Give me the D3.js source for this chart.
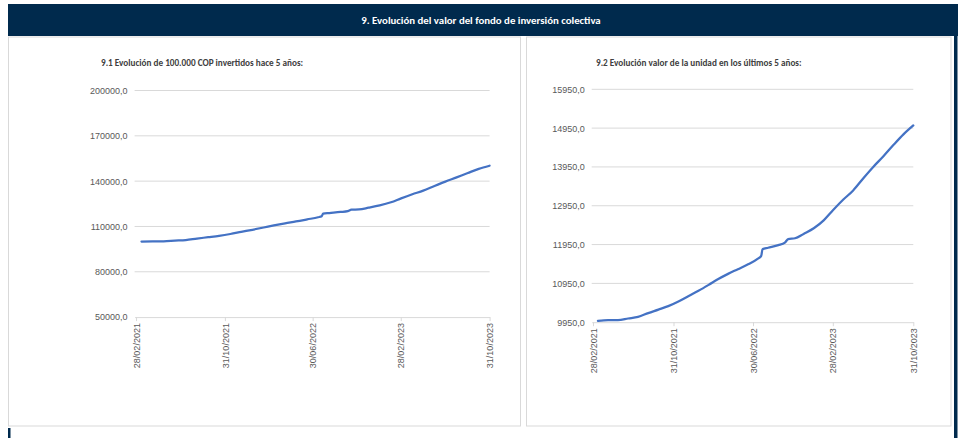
<!DOCTYPE html>
<html>
<head>
<meta charset="utf-8">
<script src="https://cdn.jsdelivr.net/npm/d3@7"></script>
<style>
  body { margin: 0; background: #fff; }
  svg { display: block; font-family: Carlito, Calibri, Lato, sans-serif; }
</style>
</head>
<body>
<script>
// fechas de corte
const fechas = [
  "2021-03-15","2021-04-15","2021-05-15","2021-06-15","2021-07-15","2021-08-15",
  "2021-09-15","2021-10-15","2021-11-15","2021-12-15","2022-01-15","2022-02-15",
  "2022-03-15","2022-04-15","2022-05-15","2022-06-15","2022-07-15","2022-07-25",
  "2022-07-29","2022-08-15","2022-09-15","2022-10-05","2022-10-15","2022-11-05",
  "2022-12-01","2023-01-01","2023-02-01","2023-03-01","2023-04-01","2023-05-01",
  "2023-06-01","2023-07-01","2023-08-01","2023-09-01","2023-10-01","2023-10-31"
];
// 9.1 evolucion de 100.000 COP
const valorInversion = [
  100000, 100100, 100150, 100600, 101000, 102000,
  102900, 103800, 105000, 106400, 107800, 109300,
  110700, 112100, 113300, 114700, 116100, 116800,
  118500, 118900, 119600, 120200, 121100, 121300,
  122400, 123900, 126000, 128600, 131300, 133700,
  136800, 139700, 142500, 145400, 148100, 150200
];
// 9.2 valor de la unidad
const valorUnidad = [
  9985, 10005, 10003, 10045, 10087, 10185,
  10275, 10365, 10485, 10620, 10760, 10912,
  11055, 11195, 11315, 11440, 11590, 11660,
  11830, 11868, 11935, 12000, 12090, 12112,
  12225, 12369, 12580, 12840, 13110, 13345,
  13660, 13950, 14225, 14520, 14790, 15020
];
const fechasEje = ["28/02/2021", "31/10/2021", "30/06/2022", "28/02/2023", "31/10/2023"];
const ticksInversion = [50000, 80000, 110000, 140000, 170000, 200000];
const ticksUnidad = [9950, 10950, 11950, 12950, 13950, 14950, 15950];

const W = 962, H = 438;
const navy = "#002a4d";
const parseIso = d3.timeParse("%Y-%m-%d");
const parseEje = d3.timeParse("%d/%m/%Y");
const esCO = d3.formatLocale({decimal: ",", thousands: "", grouping: [3], currency: ["$", ""]});
const fmt = esCO.format(".1f");

const svg = d3.select("body").append("svg")
  .attr("width", W)
  .attr("height", H);

// encabezado
svg.append("rect").attr("x", 8).attr("y", 4).attr("width", 950).attr("height", 32).attr("fill", navy);
svg.append("text")
  .attr("x", 481).attr("y", 20).attr("dy", "0.35em")
  .attr("text-anchor", "middle")
  .attr("fill", "#fff").attr("font-weight", "bold").attr("font-size", 10.8)
  .text("9. Evolución del valor del fondo de inversión colectiva");
svg.append("rect").attr("x", 954).attr("y", 36).attr("width", 3.5).attr("height", H - 36).attr("fill", navy);
svg.append("rect").attr("x", 8).attr("y", 428).attr("width", 2.5).attr("height", 10).attr("fill", navy);

function drawChart(cfg) {
  const g = svg.append("g");

  g.append("rect")
    .attr("x", cfg.panel[0]).attr("y", cfg.panel[1])
    .attr("width", cfg.panel[2]).attr("height", cfg.panel[3])
    .attr("fill", "#fff").attr("stroke", "#d9d9d9");

  g.append("text")
    .attr("x", cfg.titleX).attr("y", 63).attr("dy", "0.35em")
    .attr("fill", "#404040").attr("font-weight", "bold").attr("font-size", 9.2)
    .text(cfg.title);

  const x = d3.scaleTime()
    .domain([parseIso("2021-02-24"), parseIso("2023-10-31")])
    .range(cfg.xr);

  const y = d3.scaleLinear()
    .domain(d3.extent(cfg.yticks))
    .range(cfg.yr);

  // lineas de cuadricula
  g.append("g")
    .selectAll("line")
    .data(cfg.yticks.slice(1))
    .join("line")
    .attr("x1", cfg.xr[0]).attr("x2", cfg.xr[1])
    .attr("y1", d => y(d)).attr("y2", d => y(d))
    .attr("stroke", "#d9d9d9").attr("stroke-width", 1);

  let yAxis = a => a
    .attr("transform", `translate(${cfg.xr[0]},0)`)
    .call(d3.axisLeft(y).tickValues(cfg.yticks).tickFormat(fmt).tickSize(0).tickPadding(7))
    .call(a => a.select(".domain").remove())
    .call(a => a.selectAll("text").attr("fill", "#595959").attr("font-size", 9));

  let xAxis = a => a
    .attr("transform", `translate(0,${cfg.yr[0]})`)
    .call(d3.axisBottom(x).tickValues(fechasEje.map(parseEje)).tickFormat(d3.timeFormat("%d/%m/%Y")).tickSize(4).tickSizeOuter(0))
    .call(a => a.select(".domain").attr("stroke", "#d9d9d9"))
    .call(a => a.selectAll(".tick line").attr("stroke", "#d9d9d9"))
    .call(a => a.selectAll("text")
      .attr("fill", "#595959").attr("font-size", 9)
      .attr("text-anchor", "end")
      .attr("transform", "rotate(-90)")
      .attr("x", -6).attr("y", 0).attr("dy", "0.35em"));

  g.append("g").call(yAxis);
  g.append("g").call(xAxis);

  const serie = fechas.map((f, i) => [parseIso(f), cfg.values[i]]);
  let line = d3.line()
    .x(d => x(d[0]))
    .y(d => y(d[1]))
    .curve(d3.curveMonotoneX);

  g.append("path")
    .datum(serie)
    .attr("fill", "none")
    .attr("stroke", "#4472c4")
    .attr("stroke-width", 2.25)
    .attr("stroke-linejoin", "round")
    .attr("stroke-linecap", "round")
    .attr("d", line);
}

drawChart({
  panel: [8.5, 37, 512, 389],
  title: "9.1 Evolución de 100.000 COP invertidos hace 5 años:",
  titleX: 101,
  xr: [134.6, 489.6],
  yr: [317.1, 90.5],
  yticks: ticksInversion,
  values: valorInversion
});

drawChart({
  panel: [526.5, 37, 424.5, 389],
  title: "9.2 Evolución valor de la unidad en los últimos 5 años:",
  titleX: 596,
  xr: [591.7, 913.3],
  yr: [322.2, 89.3],
  yticks: ticksUnidad,
  values: valorUnidad
});
</script>
</body>
</html>
